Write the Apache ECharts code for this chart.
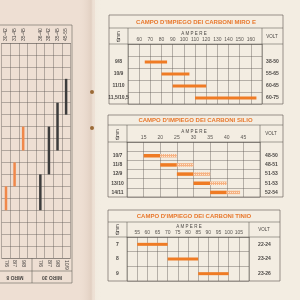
<!DOCTYPE html>
<html><head><meta charset="utf-8">
<script src="https://cdn.jsdelivr.net/npm/echarts@6/dist/echarts.min.js"></script>
<style>html,body{margin:0;padding:0;background:#f2ece0}#c{width:300px;height:300px}</style>
</head><body><div id="c"></div>
<script>
// ---- Left page (vertical table) ----
const leftCats = ['c1','c2','c3','gap','c4','c5','c6','c7'];
const leftTopLabels = ['30-42','31-45','35-45','','36-40','38-42','35-45','45-55'];
const leftBottomLabels = ['7/6','8/7','9/8','','7/6','8/7','9/8','10/9'];
const leftGroupNames = ['MIRO 8','MIRO 30'];
const leftLow  = [120,100,70,null,110,70,50,30];
const leftHigh = [140,120,90,null,140,110,90,60];
const leftGroup = [0,0,0,null,1,1,1,1];

// ---- Table 1: CARBONI MIRO E ----
const t1Title = "CAMPO D'IMPIEGO DEI CARBONI MIRO E";
const t1Rows  = ['', '9/8', '10/9', '11/10', '11,5/10,5'];
const t1Volts = ['', '38-50', '55-65', '60-65', '60-75'];
const t1From  = [null, 65, 80, 90, 110];
const t1To    = [null, 85, 105, 120, 165];

// ---- Table 2: CARBONI SILIO ----
const t2Title = "CAMPO D'IMPIEGO DEI CARBONI SILIO";
const t2Rows  = ['', '10/7', '11/8', '12/9', '13/10', '14/11'];
const t2Volts = ['', '48-50', '48-51', '51-53', '51-53', '52-54'];
const t2From  = [null, 15, 20, 25, 30, 35];
const t2Mid   = [null, 20, 25, 30, 35, 40];
const t2To    = [null, 25, 30, 35, 40, 44];

// ---- Table 3: CARBONI TINIO ----
const t3Title = "CAMPO D'IMPIEGO DEI CARBONI TINIO";
const t3Rows  = ['7', '8', '9'];
const t3Volts = ['22-24', '23-24', '23-26'];
const t3From  = [55, 70, 85];
const t3To    = [70, 85, 100];

const ORANGE = '#ef7b24', ORANGE_L = '#f5b384', DARK = '#3c3c3c';
const LINE = 'rgba(95,90,84,0.7)', TXT = '#4a4744', TITLE = '#e8782c';
const FF = 'Liberation Sans';

function diff(a, b){ return a.map((v,i)=> (v==null||b[i]==null)?null:b[i]-v); }

const chart = echarts.init(document.getElementById('c'), null, {renderer:'canvas'});

const lineStyle = {color: LINE, width: 0.6};
function valX(gi, min, max, interval){
  return {type:'value', gridIndex:gi, position:'top', min, max, interval,
    axisLine:{show:true, lineStyle}, axisTick:{show:false},
    splitLine:{show:true, lineStyle},
    axisLabel:{fontSize:5, color:'#5a5652', margin:2, fontFamily:FF, showMinLabel:false, showMaxLabel:false}};
}
function catY(gi, data, pos, margin, showSplit){
  return {type:'category', gridIndex:gi, data, inverse:true, position:pos,
    axisLine:{show:false}, axisTick:{show:false},
    splitLine:{show:showSplit, interval:0, lineStyle},
    axisLabel:{fontSize:5, color:TXT, margin, align:'center', fontFamily:FF, fontWeight:'bold', interval:0}};
}

const graphics = [
  {type:'rect', shape:{x:0,y:0,width:95,height:300}, style:{fill:'#eedfd3'}, z:-10},
  {type:'rect', shape:{x:95,y:0,width:205,height:300}, style:{fill:'#f3ede2'}, z:-10},
  {type:'rect', shape:{x:78,y:0,width:24,height:300}, z:-9,
    style:{fill:new echarts.graphic.LinearGradient(0,0,1,0,[
      {offset:0,color:'rgba(238,223,211,0)'},{offset:0.55,color:'rgba(215,195,180,0.55)'},
      {offset:0.62,color:'rgba(235,225,212,0.4)'},{offset:1,color:'rgba(243,237,226,0)'}])}},
  {type:'circle', shape:{cx:92,cy:92,r:2}, style:{fill:'#9a6a36'}},
  {type:'circle', shape:{cx:92,cy:128,r:2}, style:{fill:'#9a6a36'}},
  {type:'polyline', shape:{points:[[0,25],[72,25],[72,283],[0,283]]}, style:{stroke:LINE,lineWidth:0.8,fill:null}},
  {type:'line', shape:{x1:0,y1:271,x2:72,y2:271}, style:{stroke:LINE,lineWidth:0.8}},
  {type:'line', shape:{x1:32,y1:258,x2:32,y2:283}, style:{stroke:LINE,lineWidth:0.8}},
  {type:'text', x:15, y:277, rotation:Math.PI, style:{text:leftGroupNames[0], font:'bold 5px '+FF, fill:TXT, align:'center', verticalAlign:'middle'}},
  {type:'text', x:52, y:277, rotation:Math.PI, style:{text:leftGroupNames[1], font:'bold 5px '+FF, fill:TXT, align:'center', verticalAlign:'middle'}},
];

function tableFrame(x0, y0, x1, y1, ySep, yHead, xL, xV, title, titleY, ampX, ampY, voltX, voltY){
  graphics.push(
    {type:'rect', shape:{x:x0,y:y0,width:x1-x0,height:y1-y0}, style:{stroke:LINE,lineWidth:0.9,fill:null}},
    {type:'line', shape:{x1:x0,y1:ySep,x2:x1,y2:ySep}, style:{stroke:LINE,lineWidth:0.8}},
    {type:'line', shape:{x1:x0,y1:yHead,x2:x1,y2:yHead}, style:{stroke:LINE,lineWidth:0.8}},
    {type:'line', shape:{x1:xL,y1:ySep,x2:xL,y2:y1}, style:{stroke:LINE,lineWidth:0.8}},
    {type:'line', shape:{x1:xV,y1:ySep,x2:xV,y2:y1}, style:{stroke:LINE,lineWidth:0.8}},
    {type:'text', x:(x0+x1)/2, y:titleY, style:{text:title, font:'bold 6px '+FF, fill:TITLE, align:'center', verticalAlign:'middle'}},
    {type:'text', x:ampX, y:ampY, style:{text:'A M P E R E', font:'4.5px '+FF, fill:TXT, align:'center', verticalAlign:'middle'}},
    {type:'text', x:voltX, y:voltY, style:{text:'VOLT', font:'4.5px '+FF, fill:TXT, align:'center', verticalAlign:'middle'}},
    {type:'text', x:(x0+xL)/2, y:yHead-9, rotation:Math.PI/2, style:{text:'mm', font:'4.5px '+FF, fill:TXT, align:'center', verticalAlign:'middle'}},
    {type:'text', x:(x0+xL)/2, y:yHead-3, style:{text:'Ø', font:'5px '+FF, fill:TXT, align:'center', verticalAlign:'middle'}}
  );
}
tableFrame(109,15,283,104, 28,44, 128,262, t1Title,22, 194,34, 272,37);
tableFrame(108,115,283,197, 125,142, 127,260, t2Title,120, 194,132, 271,134);
tableFrame(108,210,280,281, 222,237, 127,249, t3Title,216, 189,227, 264,230);

const option = {
  animation:false,
  textStyle:{fontFamily:FF},
  grid:[
    {left:1.7, right:229.6, top:43, bottom:42},
    {left:128, right:38, top:44, bottom:196},
    {left:127, right:40, top:142, bottom:103},
    {left:127, right:51, top:237, bottom:19}
  ],
  xAxis:[
    {type:'category', gridIndex:0, data:leftCats, position:'top',
      axisLine:{show:true,lineStyle}, axisTick:{show:false},
      splitLine:{show:true, interval:0, lineStyle},
      axisLabel:{interval:0, rotate:90, margin:2, fontSize:5, color:TXT, fontFamily:FF,
        formatter:(v,i)=>leftTopLabels[i]}},
    {type:'category', gridIndex:0, data:leftCats, position:'bottom',
      axisLine:{show:true,lineStyle}, axisTick:{show:false},
      axisLabel:{interval:0, rotate:-90, margin:2, fontSize:5, color:TXT, fontFamily:FF,
        formatter:(v,i)=>leftBottomLabels[i]}},
    valX(1, 50, 170, 10),
    valX(2, 10, 50, 5),
    valX(3, 50, 110, 5)
  ],
  yAxis:[
    {type:'value', gridIndex:0, min:0, max:180, interval:10, inverse:true,
      axisLine:{show:false}, axisTick:{show:false}, axisLabel:{show:false},
      splitLine:{show:true, lineStyle}},
    catY(1, t1Rows, 'left', 9.5, true),
    catY(1, t1Volts, 'right', 10.5, false),
    catY(2, t2Rows, 'left', 9.5, true),
    catY(2, t2Volts, 'right', 11.5, false),
    catY(3, t3Rows, 'left', 9.5, true),
    catY(3, t3Volts, 'right', 15.5, false)
  ],
  series:[
    {type:'bar', xAxisIndex:0, yAxisIndex:0, stack:'L', data:leftLow, barWidth:2.5, itemStyle:{color:'transparent'}, silent:true},
    {type:'bar', xAxisIndex:0, yAxisIndex:0, stack:'L', barWidth:2.5,
      data:diff(leftLow,leftHigh).map((v,i)=>({value:v, itemStyle:{color: leftGroup[i]===0 ? '#f0884a' : DARK}}))},

    {type:'bar', xAxisIndex:2, yAxisIndex:1, stack:'T1', data:t1From, barWidth:3, itemStyle:{color:'transparent'}, silent:true},
    {type:'bar', xAxisIndex:2, yAxisIndex:1, stack:'T1', data:diff(t1From,t1To), barWidth:3, itemStyle:{color:ORANGE}},

    {type:'bar', xAxisIndex:3, yAxisIndex:3, stack:'T2', data:t2From, barWidth:3.5, itemStyle:{color:'transparent'}, silent:true},
    {type:'bar', xAxisIndex:3, yAxisIndex:3, stack:'T2', data:diff(t2From,t2Mid), barWidth:3.5, itemStyle:{color:ORANGE}},
    {type:'bar', xAxisIndex:3, yAxisIndex:3, stack:'T2', data:diff(t2Mid,t2To), barWidth:3.5,
      itemStyle:{color:ORANGE_L, decal:{symbol:'rect', symbolSize:1, dashArrayX:[1,1], dashArrayY:[1,1], color:'rgba(255,240,225,0.8)'}}},

    {type:'bar', xAxisIndex:4, yAxisIndex:5, stack:'T3', data:t3From, barWidth:3, itemStyle:{color:'transparent'}, silent:true},
    {type:'bar', xAxisIndex:4, yAxisIndex:5, stack:'T3', data:diff(t3From,t3To), barWidth:3, itemStyle:{color:ORANGE}}
  ],
  graphic: graphics
};
chart.setOption(option);
</script>
</body></html>
